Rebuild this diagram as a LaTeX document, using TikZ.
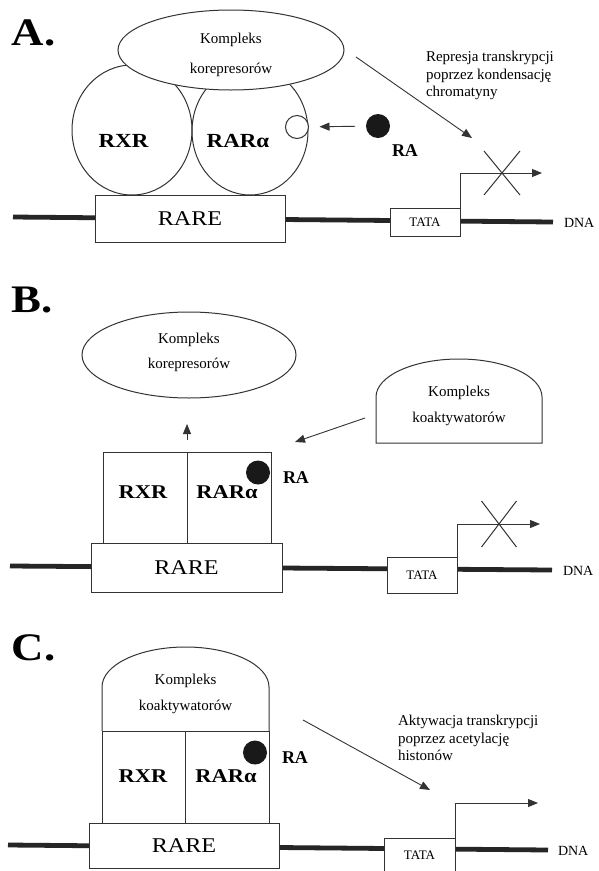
\documentclass[tikz,border=0pt]{standalone}
\usepackage{fontspec}
\setmainfont{Liberation Serif}
\newfontfamily\widefam{Liberation Serif}[FakeStretch=1.15]
\usetikzlibrary{arrows.meta,shapes.geometric}

\begin{document}
\begin{tikzpicture}[x=1pt,y=-1pt,
  every node/.style={inner sep=0pt, outer sep=0pt},
  ln/.style={draw=black!80, line width=1pt},
  dnaline/.style={draw=black!85, line width=4.8pt},
  boxnode/.style={rectangle, draw=black!80, line width=1pt, fill=white},
  arr/.style={draw=black!80, line width=0.9pt, -{Triangle[length=10pt,width=8pt]}},
  panel/.style={font=\widefam\bfseries\fontsize{39}{39}\selectfont, anchor=base west},
  note/.style={font=\fontsize{15}{17.5}\selectfont, align=left, anchor=north west},
  cplx/.style={font=\fontsize{15}{#1}\selectfont, align=center, anchor=north},
  recept/.style={font=\widefam\bfseries\fontsize{#1}{#1}\selectfont},
  ligand/.style={circle, fill=black!90, minimum size=24pt},
  ralabel/.style={font=\bfseries\fontsize{18}{18}\selectfont},
  rarebox/.style={boxnode, font=\widefam\fontsize{21}{21}\selectfont},
  tatabox/.style={boxnode, font=\fontsize{13}{13}\selectfont},
  dnalabel/.style={font=\fontsize{14}{14}\selectfont, anchor=west}
]
\fill[white] (0,0) rectangle (598,871);
\useasboundingbox (0,0) rectangle (598,871);

% ---------------- A: repression ----------------
\node[panel] (labA) at (12,45) {A.};
\coordinate (dnaA0) at (13,217);
\coordinate (dnaA1) at (553,222);
\draw[dnaline] (dnaA0) -- (dnaA1);
\node[rarebox, minimum width=190pt, minimum height=47pt] (rareA) at (190,218.5) {RARE};
\node[tatabox, minimum width=70pt, minimum height=28pt] (tataA) at (425,222) {TATA};
\node[dnalabel] (dnaA) at (564,223) {DNA};

\node[ellipse, ln, minimum width=120pt, minimum height=130pt] (rxrA) at (132,130) {};
\node[ellipse, ln, minimum width=116pt, minimum height=128pt] (rarA) at (250,131) {};
\node[recept=20] (rxrAt) at (123.5,141) {RXR};
\node[recept=20] (rarAt) at (238,141) {RARα};
\node[circle, ln, fill=white, minimum size=23pt] (siteA) at (297,127) {};
\node[ellipse, ln, fill=white, minimum width=226pt, minimum height=80pt] (corepA) at (231,50) {};
\node[cplx=29.3] (corepAt) at (231,33.5) {Kompleks\\korepresorów};

\node[ligand] (raA) at (378,126) {};
\node[ralabel] (raAt) at (405,151) {RA};
\draw[arr, shorten <=11pt, shorten >=11pt] (raA) -- (siteA);

\coordinate (repTipA) at (472,138);
\draw[arr] ([shift={(12,7)}]corepA.east) -- (repTipA);
\node[note] (repA) at (426,51.5) {Represja transkrypcji\\poprzez kondensację\\chromatyny};

\coordinate (tssA) at (542,173);
\draw[arr] (tataA.north east) |- (tssA);
\coordinate (xA) at (502,173);
\draw[ln] (xA) ++(-18,-22) -- ++(36,44) (xA) ++(18,-22) -- ++(-36,44);

% ---------------- B: ligand binding ----------------
\node[panel] (labB) at (12,312) {B.};
\coordinate (dnaB0) at (10,566);
\coordinate (dnaB1) at (552,570);
\draw[dnaline] (dnaB0) -- (dnaB1);
\node[rarebox, minimum width=191pt, minimum height=49pt] (rareB) at (186.5,567.5) {RARE};
\node[tatabox, minimum width=70pt, minimum height=36pt] (tataB) at (422,575) {TATA};
\node[dnalabel] (dnaB) at (563,571) {DNA};

\node[boxnode, minimum width=84pt, minimum height=91pt] (rxrB) at (145,497.5) {};
\node[boxnode, minimum width=84pt, minimum height=91pt] (rarB) at (229,497.5) {};
\node[recept=19.5] (rxrBt) at (143,492) {RXR};
\node[recept=19.5] (rarBt) at (227,492) {RARα};
\node[ligand] (raB) at (258,472.5) {};
\node[ralabel] (raBt) at (296,478) {RA};

\node[ellipse, ln, minimum width=214pt, minimum height=86pt] (corepB) at (189,355) {};
\node[cplx=24.5] (corepBt) at (189,333.5) {Kompleks\\korepresorów};
\draw[arr] ([yshift=12pt]rxrB.north east) -- ++(0,-16);

\coordinate (coactBsw) at (376,443);
\coordinate (coactBse) at (542,443);
\draw[ln] (coactBsw) -- ++(0,-46)
  arc[start angle=180, end angle=0, x radius=83pt, y radius=38pt]
  -- (coactBse) -- cycle;
\node[cplx=26] (coactBt) at (459,386.5) {Kompleks\\koaktywatorów};
\coordinate (coStartB) at (365,418);
\coordinate (coTipB) at (295,442);
\draw[arr] (coStartB) -- (coTipB);

\coordinate (tssB) at (540,524);
\draw[arr] (tataB.north east) |- (tssB);
\coordinate (xB) at (499,524);
\draw[ln] (xB) ++(-17.5,-23) -- ++(35,46) (xB) ++(17.5,-23) -- ++(-35,46);

% ---------------- C: activation ----------------
\node[panel] (labC) at (12,660) {C.};
\coordinate (dnaC0) at (8,845);
\coordinate (dnaC1) at (548,850);
\draw[dnaline] (dnaC0) -- (dnaC1);
\node[rarebox, minimum width=190pt, minimum height=45pt] (rareC) at (184,845.5) {RARE};
\node[tatabox, minimum width=71pt, minimum height=34pt] (tataC) at (419.5,855) {TATA};
\node[dnalabel] (dnaC) at (558,851) {DNA};

\node[boxnode, minimum width=83pt, minimum height=92pt] (rxrC) at (143.5,777) {};
\node[boxnode, minimum width=84pt, minimum height=92pt] (rarC) at (227,777) {};
\node[recept=19.5] (rxrCt) at (143,776) {RXR};
\node[recept=19.5] (rarCt) at (226,776) {RARα};
\node[ligand] (raC) at (255,752.5) {};
\node[ralabel] (raCt) at (295,758) {RA};

\draw[ln] (rxrC.north west) -- ++(0,-44)
  arc[start angle=180, end angle=0, x radius=83.5pt, y radius=40pt]
  -- (rarC.north east);
\node[cplx=26] (coactCt) at (185.5,674.5) {Kompleks\\koaktywatorów};

\coordinate (actS) at (303,720);
\coordinate (actT) at (430,790);
\draw[arr] (actS) -- (actT);
\node[note] (actC) at (398,715.5) {Aktywacja transkrypcji\\poprzez acetylację\\histonów};

\coordinate (tssC) at (538,803);
\draw[arr] (tataC.north east) |- (tssC);
\end{tikzpicture}
\end{document}
